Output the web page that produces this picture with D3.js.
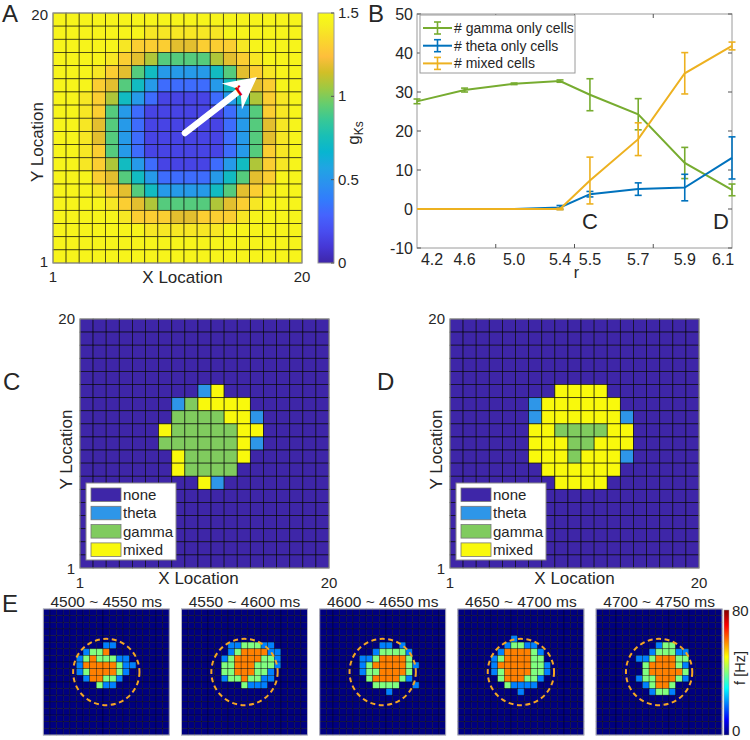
<!DOCTYPE html>
<html>
<head>
<meta charset="utf-8">
<script src="https://cdn.jsdelivr.net/npm/d3@7/dist/d3.min.js"></script>
<style>
  html,body{margin:0;padding:0;background:#fff;}
  svg text{font-family:"Liberation Sans",Arial,Helvetica,sans-serif;}
</style>
</head>
<body>
<svg id="fig" width="750" height="740" xmlns="http://www.w3.org/2000/svg"></svg>
<script>
// ================= DATA =================
// Panel A: g_Ks map, 19x19 cells (top row first); each digit indexes gksLevels
const gksLevels = [0.15, 0.32, 0.52, 0.72, 0.92, 1.08, 1.18, 1.30, 1.40, 1.46];
const gksRows = [
 "9999999999999999999",
 "9999999888888999999",
 "9999987776677789999",
 "9999876544445678999",
 "9998764322223467899",
 "9997643211112346799",
 "9987532100001235789",
 "9987421000000124789",
 "9986421000000124689",
 "9986421000000124689",
 "9987421000000124789",
 "9987532100001235789",
 "9997643211112346799",
 "9998764322223467899",
 "9999876544445678999",
 "9999987776677789999",
 "9999999888888999999",
 "9999999999999999999",
 "9999999999999999999"
];
const gksTicks = [0, 0.5, 1, 1.5];
const gksTickLabels = ["0", "0.5", "1", "1.5"];
const locTicks = [1, 20];
const arrowFrom = [11.07, 10.88];   // in location units
const arrowTo = [16.57, 15.14];

// Panel B
const rLabels = ["4.2", "4.6", "5.0", "5.4", "5.5", "5.7", "5.9", "6.1"];
const rPos = [0, 0.604, 1.233, 1.816, 2.196, 2.809, 3.40, 4.0];
const gammaMean = [27.6, 30.5, 32.1, 32.8, 29.3, 24.3, 11.8, 4.9];
const gammaErr  = [0.6, 0.5, 0.2, 0.3, 4.1, 4.0, 4.0, 1.5];
const thetaMean = [0, 0, 0, 0.4, 3.8, 5.1, 5.5, 13.1];
const thetaErr  = [0, 0, 0, 0.5, 0.7, 1.6, 3.4, 5.4];
const mixedMean = [0, 0, 0, 0, 7.3, 17.9, 34.8, 41.8];
const mixedErr  = [0, 0, 0, 0.2, 6.0, 4.2, 5.3, 1.0];
const seriesNames = ["# gamma only cells", "# theta only cells", "# mixed cells"];
const countTicks = [-10, 0, 10, 20, 30, 40, 50];
const bMarks = [{label: "C", at: 4}, {label: "D", at: 7}];

// Panels C and D: cell type maps (top row first). . none, t theta, g gamma, m mixed
const cellTypes = ["none", "theta", "gamma", "mixed"];
const cellCode = {".": 0, "t": 1, "g": 2, "m": 3};
const mapC = [
 "", "", "", "", "",
 ".........tm",
 ".......tgmmmm",
 ".......ggggmmt",
 "......mgggggmm",
 "......ggggggmt",
 ".......mggggm",
 ".......mgggg",
 ".........mt",
 "", "", "", "", "", ""
];
const mapD = [
 "", "", "", "", "",
 "........mmmm",
 "......tmmmmmm",
 "......tmmmmmmt",
 "......mmggggmm",
 "......mmmggmmm",
 "......mmmgmmmt",
 ".......mmmmmm",
 "........mmmm",
 "", "", "", "", "", ""
];

// Panel E: frequency snapshots, 19x19 cells. . 0 Hz, b 20 Hz, g 40 Hz, o 60 Hz
const eTitles = ["4500 ~ 4550 ms", "4550 ~ 4600 ms", "4600 ~ 4650 ms", "4650 ~ 4700 ms", "4700 ~ 4750 ms"];
const eHz = {".": 0, "b": 20, "g": 40, "o": 60};
const eFrames = [
 ["", "", "", "", "",
  ".........bb",
  "......bggo",
  ".....bgogggbb",
  ".....booooogbb",
  ".....bgoooogb",
  "......booggb",
  "........gbb",
  "", "", "", "", "", "", ""],
 ["", "", "", "", "",
  ".......bbgggbb",
  ".......bgoooobb",
  "......bgooooggb",
  "......ggooogggb",
  "......ggoooggb",
  "......bggoggbb",
  ".........gbbb",
  "", "", "", "", "", "", ""],
 ["", "", "", "", "",
  ".........bb.b",
  "........bggggb",
  "......bbgoooog",
  "......bgooooogb",
  "......bggoooog",
  ".......goooogb",
  "........gggg..b",
  "..........b",
  "", "", "", "", "", ""],
 ["", "", "", "",
  "........b",
  ".......bggbb",
  "......boooogb",
  ".....bgoooogg",
  ".....boooooggb",
  ".....bgooooggb",
  "......goooggb",
  ".......gbbbb",
  ".........b",
  "", "", "", "", "", ""],
 ["", "", "", "", "",
  ".........bgg",
  "........bgggbb",
  "......bbgooogg",
  ".......goooogb",
  ".......gooooog",
  "......bggooogb",
  ".......bgoog",
  "........bggb",
  "", "", "", "", "", ""]
];
const eCircleRadius = 5;      // in cells
const hzTicks = [0, 80];

// ================= STYLE =================
const parulaIdx = [0, 4, 8, 12, 16, 20, 24, 28, 32, 36, 40, 44, 48, 52, 56, 60, 63];
const parulaHex = ["#3e26a8", "#4537d5", "#484df0", "#4563fd", "#327cfc", "#2b91ef", "#20a5e3", "#08b5d0",
                   "#19bfb6", "#37c897", "#64cd6f", "#9dc943", "#d1bf27", "#febe3c", "#fad62d", "#f6ef20", "#f9fb15"];
const typeColors = ["#3e26a8", "#2e96e8", "#80cb5e", "#f9f90c"];
const seriesColors = ["#77ac30", "#0072bd", "#edb120"];
const TXT = "#262626";
const FRAME = "#9a9a9a";

const svg = d3.select("#fig");

function addText(parent, x, y, str, size, anchor = "start", rotate = 0, fill = TXT, weight = "normal") {
  const t = parent.append("text").attr("x", x).attr("y", y).attr("font-size", size)
    .attr("text-anchor", anchor).attr("fill", fill).attr("font-weight", weight).text(str);
  if (rotate) t.attr("transform", `rotate(${rotate},${x},${y})`);
  return t;
}

// Panel letters
addText(svg, 2, 22, "A", 24);
addText(svg, 368, 22, "B", 24);
addText(svg, 3, 390, "C", 24);
addText(svg, 377, 390, "D", 24);
addText(svg, 2, 612, "E", 24);

// ================= PANEL A =================
const A = {x: 53, y: 13, w: 249, h: 250};
const xA = d3.scaleLinear([1, 20], [A.x, A.x + A.w]);
const yA = d3.scaleLinear([1, 20], [A.y + A.h, A.y]);
const gksMax = gksTicks[gksTicks.length - 1];
const parula = d3.scaleLinear().domain(parulaIdx.map(i => gksMax * i / 63)).range(parulaHex).clamp(true);

const gksCells = [];
gksRows.forEach((row, r) => [...row].forEach((ch, c) => gksCells.push({col: c, row: r, v: gksLevels[+ch]})));
const gA = svg.append("g");
gA.selectAll("rect.cell").data(gksCells).join("rect").attr("class", "cell")
  .attr("x", d => xA(1 + d.col)).attr("y", d => yA(20 - d.row))
  .attr("width", d => xA(2 + d.col) - xA(1 + d.col))
  .attr("height", d => yA(19 - d.row) - yA(20 - d.row))
  .attr("fill", d => parula(d.v))
  .attr("stroke", "#000").attr("stroke-width", 0.8).attr("stroke-opacity", 0.7);
gA.append("rect").attr("x", A.x).attr("y", A.y).attr("width", A.w).attr("height", A.h)
  .attr("fill", "none").attr("stroke", FRAME).attr("stroke-width", 1);

addText(gA, A.x - 5, yA(20) + 7, String(locTicks[1]), 15, "end");
addText(gA, A.x - 5, yA(1) + 4, String(locTicks[0]), 15, "end");
addText(gA, xA(1), 282, String(locTicks[0]), 15, "middle");
addText(gA, xA(20), 282, String(locTicks[1]), 15, "middle");
addText(gA, A.x + A.w / 2 + 5, 283, "X Location", 17, "middle");
addText(gA, 43, A.y + A.h / 2 + 4, "Y Location", 17, "middle", -90);

// arrow
{
  const p0 = [xA(arrowFrom[0]), yA(arrowFrom[1])];
  const p1 = [xA(arrowTo[0]), yA(arrowTo[1])];
  const dx = p1[0] - p0[0], dy = p1[1] - p0[1], len = Math.hypot(dx, dy);
  const u = [dx / len, dy / len], n = [-u[1], u[0]];
  const L = 32, hw = 16.5, notch = 21;
  gA.append("line").attr("x1", p0[0]).attr("y1", p0[1])
    .attr("x2", p1[0] - u[0] * (notch + 2)).attr("y2", p1[1] - u[1] * (notch + 2))
    .attr("stroke", "#fff").attr("stroke-width", 6.5).attr("stroke-linecap", "round");
  const head = [
    p1,
    [p1[0] - u[0] * L + n[0] * hw, p1[1] - u[1] * L + n[1] * hw],
    [p1[0] - u[0] * notch, p1[1] - u[1] * notch],
    [p1[0] - u[0] * L - n[0] * hw, p1[1] - u[1] * L - n[1] * hw]
  ];
  gA.append("polygon").attr("points", head.map(p => p.join(",")).join(" ")).attr("fill", "#fff");
  const rp = [p1[0] - u[0] * 19, p1[1] - u[1] * 19];
  addText(gA, rp[0], rp[1] + 6, "r", 18, "middle", -35, "#e00000", "bold");
}

// colorbar A
const CB = {x: 318, y: 13, w: 16, h: 250};
const defs = svg.append("defs");
const gradA = defs.append("linearGradient").attr("id", "gradA").attr("x1", 0).attr("y1", 1).attr("x2", 0).attr("y2", 0);
parulaIdx.forEach((idx, i) => gradA.append("stop").attr("offset", idx / 63).attr("stop-color", parulaHex[i]));
const yCB = d3.scaleLinear([0, gksMax], [CB.y + CB.h, CB.y]);
svg.append("rect").attr("x", CB.x).attr("y", CB.y).attr("width", CB.w).attr("height", CB.h)
  .attr("fill", "url(#gradA)").attr("stroke", FRAME).attr("stroke-width", 1);
gksTicks.forEach((t, i) => {
  svg.append("line").attr("x1", CB.x + CB.w - 3).attr("x2", CB.x + CB.w).attr("y1", yCB(t)).attr("y2", yCB(t))
    .attr("stroke", "#555").attr("stroke-width", 1);
  addText(svg, CB.x + CB.w + 4, yCB(t) + 5, gksTickLabels[i], 15, "start");
});
{
  const t = svg.append("text").attr("x", 359).attr("y", 133).attr("font-size", 17).attr("fill", TXT)
    .attr("text-anchor", "middle").attr("transform", "rotate(-90,359,133)");
  t.append("tspan").text("g");
  t.append("tspan").attr("font-size", 12).attr("dy", 4).text("Ks");
}

// ================= PANEL B =================
const B = {x: 417, y: 14, w: 315, h: 234};
const xB = d3.scaleLinear([0, 4], [B.x, B.x + B.w]);
const yB = d3.scaleLinear([-10, 50], [B.y + B.h, B.y]);
const gB = svg.append("g");
gB.append("rect").attr("x", B.x).attr("y", B.y).attr("width", B.w).attr("height", B.h)
  .attr("fill", "#fff").attr("stroke", FRAME).attr("stroke-width", 1);
countTicks.forEach(t => {
  gB.append("line").attr("x1", B.x).attr("x2", B.x + 4).attr("y1", yB(t)).attr("y2", yB(t)).attr("stroke", "#555");
  gB.append("line").attr("x1", B.x + B.w - 4).attr("x2", B.x + B.w).attr("y1", yB(t)).attr("y2", yB(t)).attr("stroke", "#555");
  addText(gB, B.x - 4, yB(t) + 5.5, String(t), 16, "end");
});
[1, 2, 3].forEach(t => {
  gB.append("line").attr("x1", xB(t)).attr("x2", xB(t)).attr("y1", B.y + B.h).attr("y2", B.y + B.h - 4).attr("stroke", "#555");
  gB.append("line").attr("x1", xB(t)).attr("x2", xB(t)).attr("y1", B.y).attr("y2", B.y + 4).attr("stroke", "#555");
});
rLabels.forEach((lab, i) => {
  const x = Math.min(Math.max(xB(rPos[i]), B.x + 15), B.x + B.w - 9);
  addText(gB, x, 265, lab, 16, "middle");
});
addText(gB, B.x + B.w / 2 + 2, 278, "r", 16, "middle");

const series = [
  {name: seriesNames[0], mean: gammaMean, err: gammaErr, color: seriesColors[0]},
  {name: seriesNames[1], mean: thetaMean, err: thetaErr, color: seriesColors[1]},
  {name: seriesNames[2], mean: mixedMean, err: mixedErr, color: seriesColors[2]}
];
const lineB = d3.line().x((d, i) => xB(rPos[i])).y(d => yB(d));
series.forEach(s => {
  const g = gB.append("g");
  g.append("path").attr("d", lineB(s.mean)).attr("fill", "none").attr("stroke", s.color).attr("stroke-width", 2);
  s.mean.forEach((m, i) => {
    if (s.err[i] <= 0) return;
    const x = xB(rPos[i]), y1 = yB(m - s.err[i]), y2 = yB(m + s.err[i]);
    g.append("line").attr("x1", x).attr("x2", x).attr("y1", y1).attr("y2", y2).attr("stroke", s.color).attr("stroke-width", 1.6);
    [y1, y2].forEach(y => g.append("line").attr("x1", x - 3.5).attr("x2", x + 3.5).attr("y1", y).attr("y2", y)
      .attr("stroke", s.color).attr("stroke-width", 1.6));
  });
});
// legend B
{
  const lg = gB.append("g");
  lg.append("rect").attr("x", 420).attr("y", 15).attr("width", 155).attr("height", 58)
    .attr("fill", "#fff").attr("stroke", FRAME).attr("stroke-width", 1);
  series.forEach((s, i) => {
    const y = 28 + i * 17.7;
    lg.append("line").attr("x1", 423).attr("x2", 452).attr("y1", y).attr("y2", y).attr("stroke", s.color).attr("stroke-width", 2);
    lg.append("line").attr("x1", 437.5).attr("x2", 437.5).attr("y1", y - 6).attr("y2", y + 6).attr("stroke", s.color).attr("stroke-width", 1.6);
    [y - 6, y + 6].forEach(yy => lg.append("line").attr("x1", 434).attr("x2", 441).attr("y1", yy).attr("y2", yy)
      .attr("stroke", s.color).attr("stroke-width", 1.6));
    addText(lg, 454, y + 5, s.name, 14, "start");
  });
}
addText(gB, xB(rPos[bMarks[0].at]), 229, bMarks[0].label, 22, "middle");
addText(gB, xB(rPos[bMarks[1].at]) - 3, 229, bMarks[1].label, 22, "end");

// ================= PANELS C, D =================
function drawTypeMap(map, P, labelShift) {
  const g = svg.append("g");
  const x = d3.scaleLinear([1, 20], [P.x, P.x + P.w]);
  const y = d3.scaleLinear([1, 20], [P.y + P.h, P.y]);
  const cells = [];
  for (let r = 0; r < 19; r++) {
    const row = map[r].padEnd(19, ".");
    for (let c = 0; c < 19; c++) cells.push({row: r, col: c, t: cellCode[row[c]]});
  }
  g.selectAll("rect.cell").data(cells).join("rect").attr("class", "cell")
    .attr("x", d => x(1 + d.col)).attr("y", d => y(20 - d.row))
    .attr("width", d => x(2 + d.col) - x(1 + d.col))
    .attr("height", d => y(19 - d.row) - y(20 - d.row))
    .attr("fill", d => typeColors[d.t])
    .attr("stroke", "#000").attr("stroke-width", 0.8).attr("stroke-opacity", 0.75);
  g.append("rect").attr("x", P.x).attr("y", P.y).attr("width", P.w).attr("height", P.h)
    .attr("fill", "none").attr("stroke", FRAME);
  addText(g, P.x - 5, y(20) + 5, String(locTicks[1]), 15, "end");
  addText(g, P.x - 5, y(1) + 6, String(locTicks[0]), 15, "end");
  addText(g, x(1), 588, String(locTicks[0]), 15, "middle");
  addText(g, x(20), 588, String(locTicks[1]), 15, "middle");
  addText(g, P.x + P.w / 2 + labelShift, 584, "X Location", 17, "middle");
  addText(g, P.x - 8, P.y + P.h / 2 + 6, "Y Location", 17, "middle", -90);
  // legend
  const lx = P.x + 6, ly = P.y + 164;
  g.append("rect").attr("x", lx).attr("y", ly).attr("width", 90).attr("height", 77)
    .attr("fill", "#fff").attr("stroke", "#888");
  cellTypes.forEach((name, i) => {
    const yy = ly + 5 + i * 18.3;
    g.append("rect").attr("x", lx + 5).attr("y", yy).attr("width", 30).attr("height", 13.5)
      .attr("fill", typeColors[i]).attr("stroke", "#777").attr("stroke-width", 0.8);
    addText(g, lx + 37, yy + 12, name, 15, "start");
  });
}
drawTypeMap(mapC, {x: 80, y: 319, w: 249, h: 249}, -6);
drawTypeMap(mapD, {x: 450, y: 319, w: 249, h: 249}, 0);

// ================= PANEL E =================
const jet = d3.scaleLinear().domain([0, 10, 30, 50, 70, 80])
  .range(["#000080", "#0000ff", "#00ffff", "#ffff00", "#ff0000", "#800000"]).clamp(true);
const E = {x0: 43.3, step: 138.2, y: 609, size: 126};
eFrames.forEach((frame, k) => {
  const g = svg.append("g");
  const x0 = E.x0 + k * E.step;
  const ex = d3.scaleLinear([0, 19], [x0, x0 + E.size]);
  const ey = d3.scaleLinear([0, 19], [E.y, E.y + E.size]);
  const cells = [];
  for (let r = 0; r < 19; r++) {
    const row = frame[r].padEnd(19, ".");
    for (let c = 0; c < 19; c++) cells.push({row: r, col: c, hz: eHz[row[c]]});
  }
  g.selectAll("rect.cell").data(cells).join("rect").attr("class", "cell")
    .attr("x", d => ex(d.col)).attr("y", d => ey(d.row))
    .attr("width", ex(1) - ex(0)).attr("height", ey(1) - ey(0))
    .attr("fill", d => jet(d.hz))
    .attr("stroke", "#000").attr("stroke-width", 0.6).attr("stroke-opacity", 0.6);
  g.append("rect").attr("x", x0).attr("y", E.y).attr("width", E.size).attr("height", E.size)
    .attr("fill", "none").attr("stroke", "#b5b5c5");
  g.append("circle").attr("cx", ex(9.5)).attr("cy", ey(9.5)).attr("r", ex(eCircleRadius) - ex(0))
    .attr("fill", "none").attr("stroke", "#f5a623").attr("stroke-width", 2).attr("stroke-dasharray", "5,3.5");
  addText(g, x0 + E.size / 2, 607, eTitles[k], 15.5, "middle");
});
// colorbar E
{
  const gradE = defs.append("linearGradient").attr("id", "gradE").attr("x1", 0).attr("y1", 1).attr("x2", 0).attr("y2", 0);
  jet.domain().forEach((v, i) => gradE.append("stop").attr("offset", v / 80).attr("stop-color", jet.range()[i]));
  const yE = d3.scaleLinear(hzTicks, [735, 610]);
  svg.append("rect").attr("x", 724).attr("y", 610).attr("width", 5).attr("height", 125)
    .attr("fill", "url(#gradE)").attr("stroke", "#999").attr("stroke-width", 0.5);
  addText(svg, 732, yE(80) + 6, String(hzTicks[1]), 15, "start");
  addText(svg, 732, yE(0) + 1, String(hzTicks[0]), 15, "start");
  addText(svg, 745, 668, "f [Hz]", 14.5, "middle", -90);
}
</script>
</body>
</html>
